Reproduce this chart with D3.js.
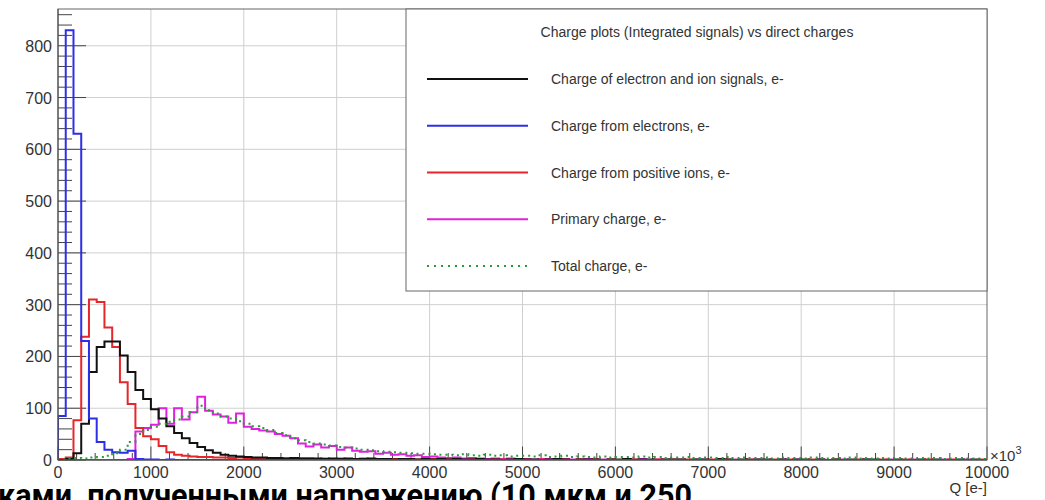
<!DOCTYPE html>
<html><head><meta charset="utf-8">
<script src="https://cdn.jsdelivr.net/npm/d3@7"></script>
<style>body{margin:0;background:#fff}svg{display:block}</style>
</head><body>
<svg id="c" width="1045" height="500"></svg>
<script>
// ---- data (120 bins over 0..10000, bin width 83.33) ----
const xMin = 0, xMax = 10000, nBins = 120;
const xTicks = [0,1000,2000,3000,4000,5000,6000,7000,8000,9000,10000];
const yTicks = [0,100,200,300,400,500,600,700,800];
const legendTitle = "Charge plots (Integrated signals) vs direct charges";
const seriesNames = ["Charge of electron and ion signals, e-","Charge from electrons, e-","Charge from positive ions, e-","Primary charge, e-","Total charge, e-"];

const blackVals = [0,2,13,70,170,218,229,229,202,170, 135,118,98,80,65,52,42,33,25,19,
 14,10,8,7,6,5,5,4,4,3, 4,3,3,3,2,3,2,3,2,2, 3,2,2,1,2,2,1,2,1,2,
 1,2,1,1,2,1,1,0,1,2, 1,1,0,1,2,1,0,1,1,1, 0,1,1,2,0,1,1,0,1,1,
 1,0,1,1,0,2,1,0,1,0, 1,1,0,1,0,1,1,0,1,0, 1,0,1,0,1,1,0,0,1,0, 0,1,0,1,0,0,1,0,1,0];
const blueVals = [85,830,630,230,80,35,20,15,14,18, 2,1,1,0,1,0,0,0,0,0,
 0,0,0,0,0,0,0,0,0,0, 0,0,0,0,0,0,0,0,0,0, 0,0,0,0,0,0,0,0,0,0,
 0,0,0,0,0,0,0,0,0,0, 0,0,0,0,0,0,0,0,0,0, 0,0,0,0,0,0,0,0,0,0,
 0,0,0,0,0,0,0,0,0,0, 0,0,0,0,0,0,0,0,0,0, 0,0,0,0,0,0,0,0,0,0, 0,0,0,0,0,0,0,0,0,0];
const redVals = [2,5,77,238,310,305,256,218,150,108, 62,46,40,27,15,10,8,7,6,6,
 5,5,4,5,4,4,3,4,3,3, 4,3,3,2,3,2,3,2,2,3, 2,2,1,2,1,2,1,1,2,1,
 1,1,0,1,1,0,1,1,0,1, 1,0,1,0,1,1,0,1,0,1, 0,1,0,1,1,0,0,1,0,1,
 0,1,0,0,1,0,1,0,0,1, 0,0,1,0,1,0,0,1,0,0, 1,0,0,1,0,0,1,0,0,1, 0,0,1,0,0,1,0,0,0,1];
const magentaVals = [0,0,0,0,0,0,0,0,0,2, 55,62,68,100,70,100,78,92,122,95,
 88,84,72,90,64,60,57,55,50,47, 42,32,26,30,24,27,20,24,18,16, 17,12,14,10,11,8,9,6,7,5,
 4,5,3,4,3,2,3,2,3,2, 2,1,2,2,1,2,1,1,2,1, 1,1,0,1,1,2,0,1,1,0,
 1,0,1,1,0,1,0,1,0,1, 1,0,0,1,0,1,0,0,1,0, 0,1,0,0,1,0,0,1,0,0, 1,0,0,0,1,0,0,1,0,0];
const greenVals = [1,3,4,3,5,6,8,13,20,35, 50,58,64,70,74,78,84,92,105,96,
 90,84,80,75,70,65,62,58,52,48, 42,38,35,32,30,28,25,24,22,20, 19,17,16,15,14,13,12,12,11,10,
 10,9,11,9,8,10,8,9,7,8, 8,7,9,6,7,8,6,7,6,5, 7,5,6,6,5,7,5,6,4,5,
 5,6,4,5,5,4,6,4,5,4, 4,5,3,5,4,4,3,5,4,3, 4,3,5,3,4,3,4,3,4,3, 3,4,3,4,2,3,4,3,3,2];

// ---- layout ----
const L = 58, R = 987, T = 9, B = 460, yMax = 871;
const svg = d3.select("#c");
const x = d3.scaleLinear().domain([xMin, xMax]).range([L, R]);
const y = d3.scaleLinear().domain([0, yMax]).range([B, T]);
const bw = (xMax - xMin) / nBins;
const font = "'Liberation Sans', Arial, Helvetica, sans-serif";
const txt = "#333";

// grid
const g = svg.append("g");
g.selectAll("line.gx").data(xTicks.slice(1, -1)).join("line")
  .attr("x1", d => x(d)).attr("x2", d => x(d)).attr("y1", T).attr("y2", B)
  .attr("stroke", "#cfcfcf").attr("stroke-width", 1);
g.selectAll("line.gy").data(yTicks.slice(1)).join("line")
  .attr("x1", L).attr("x2", R).attr("y1", d => y(d)).attr("y2", d => y(d))
  .attr("stroke", "#cfcfcf").attr("stroke-width", 1);

// ticks (inside, ROOT style)
const yMinor = d3.range(0, yMax, 20);
svg.append("g").selectAll("line").data(yMinor).join("line")
  .attr("x1", L).attr("x2", d => L + (d % 100 === 0 ? 28 : 14))
  .attr("y1", d => y(d)).attr("y2", d => y(d))
  .attr("stroke", "#444").attr("stroke-width", 1);
const xMinor = d3.range(0, xMax + 1, 200);
svg.append("g").selectAll("line").data(xMinor).join("line")
  .attr("y1", B).attr("y2", d => B - (d % 1000 === 0 ? 13.5 : 7))
  .attr("x1", d => x(d)).attr("x2", d => x(d))
  .attr("stroke", "#444").attr("stroke-width", 1);

// histograms
const clip = svg.append("clipPath").attr("id", "fr").append("rect")
  .attr("x", L).attr("y", T).attr("width", R - L).attr("height", B - T);
const line = d3.line().curve(d3.curveStepAfter).x(d => x(d[0])).y(d => y(d[1]));
function pts(vals) {
  const p = [[xMin, 0]];
  vals.forEach((v, i) => p.push([xMin + i * bw, v]));
  p.push([xMax, vals[vals.length - 1]]);
  p.push([xMax, 0]);
  return p;
}
const series = [
  {vals: magentaVals, color: "#e020e0", dash: null},
  {vals: redVals, color: "#e8262a", dash: null},
  {vals: blackVals, color: "#111", dash: null},
  {vals: blueVals, color: "#2e2ee6", dash: null},
  {vals: greenVals, color: "#2a9a3a", dash: "2,4"}
];
const hg = svg.append("g").attr("clip-path", "url(#fr)");
series.forEach(s => {
  hg.append("path").attr("d", line(pts(s.vals))).attr("fill", "none")
    .attr("stroke", s.color).attr("stroke-width", 2)
    .attr("stroke-dasharray", s.dash);
});

// frame
svg.append("rect").attr("x", L).attr("y", T).attr("width", R - L).attr("height", B - T)
  .attr("fill", "none").attr("stroke", "#666").attr("stroke-width", 1);
svg.append("line").attr("x1", L).attr("x2", L).attr("y1", T).attr("y2", B).attr("stroke", "#444");
svg.append("line").attr("x1", L).attr("x2", R).attr("y1", B).attr("y2", B).attr("stroke", "#444");

// tick labels
svg.append("g").selectAll("text").data(yTicks).join("text")
  .attr("x", L - 6).attr("y", d => y(d) + 6).attr("text-anchor", "end")
  .attr("font-family", font).attr("font-size", 16).attr("fill", txt).text(d => d);
svg.append("g").selectAll("text").data(xTicks).join("text")
  .attr("x", d => x(d)).attr("y", 478).attr("text-anchor", "middle")
  .attr("font-family", font).attr("font-size", 16).attr("fill", txt).text(d => d);
const ex = svg.append("text").attr("x", R + 3).attr("y", 461)
  .attr("font-family", font).attr("font-size", 15).attr("fill", txt);
ex.append("tspan").text("×10");
ex.append("tspan").attr("dy", -7).attr("font-size", 11).text("3");
svg.append("text").attr("x", R).attr("y", 493).attr("text-anchor", "end")
  .attr("font-family", font).attr("font-size", 15).attr("fill", txt).text("Q [e-]");

// legend
const lg = svg.append("g");
lg.append("rect").attr("x", 406).attr("y", T).attr("width", R - 406).attr("height", 291 - T)
  .attr("fill", "#fff").attr("stroke", "#666").attr("stroke-width", 1);
lg.append("text").attr("x", 697).attr("y", 37).attr("text-anchor", "middle")
  .attr("font-family", font).attr("font-size", 14).attr("fill", txt).text(legendTitle);
const legOrder = [
  {color: "#111", dash: null},
  {color: "#2e2ee6", dash: null},
  {color: "#e8262a", dash: null},
  {color: "#e020e0", dash: null},
  {color: "#2a9a3a", dash: "2,5"}
];
const ly = d3.scaleLinear().domain([0, 4]).range([79, 266]);
seriesNames.forEach((n, i) => {
  lg.append("line").attr("x1", 427).attr("x2", 528).attr("y1", ly(i)).attr("y2", ly(i))
    .attr("stroke", legOrder[i].color).attr("stroke-width", 2)
    .attr("stroke-dasharray", legOrder[i].dash);
  lg.append("text").attr("x", 551).attr("y", ly(i) + 5)
    .attr("font-family", font).attr("font-size", 14).attr("fill", txt).text(n);
});

// cropped caption below the figure
svg.append("text").attr("x", -2).attr("y", 506)
  .attr("font-family", "Roboto, 'Liberation Sans', sans-serif").attr("font-weight", "bold")
  .attr("font-size", 31).attr("fill", "#000")
  .attr("textLength", 694).attr("lengthAdjust", "spacingAndGlyphs")
  .text("ками, полученными напряжению (10 мкм и 250");
</script>
</body></html>
